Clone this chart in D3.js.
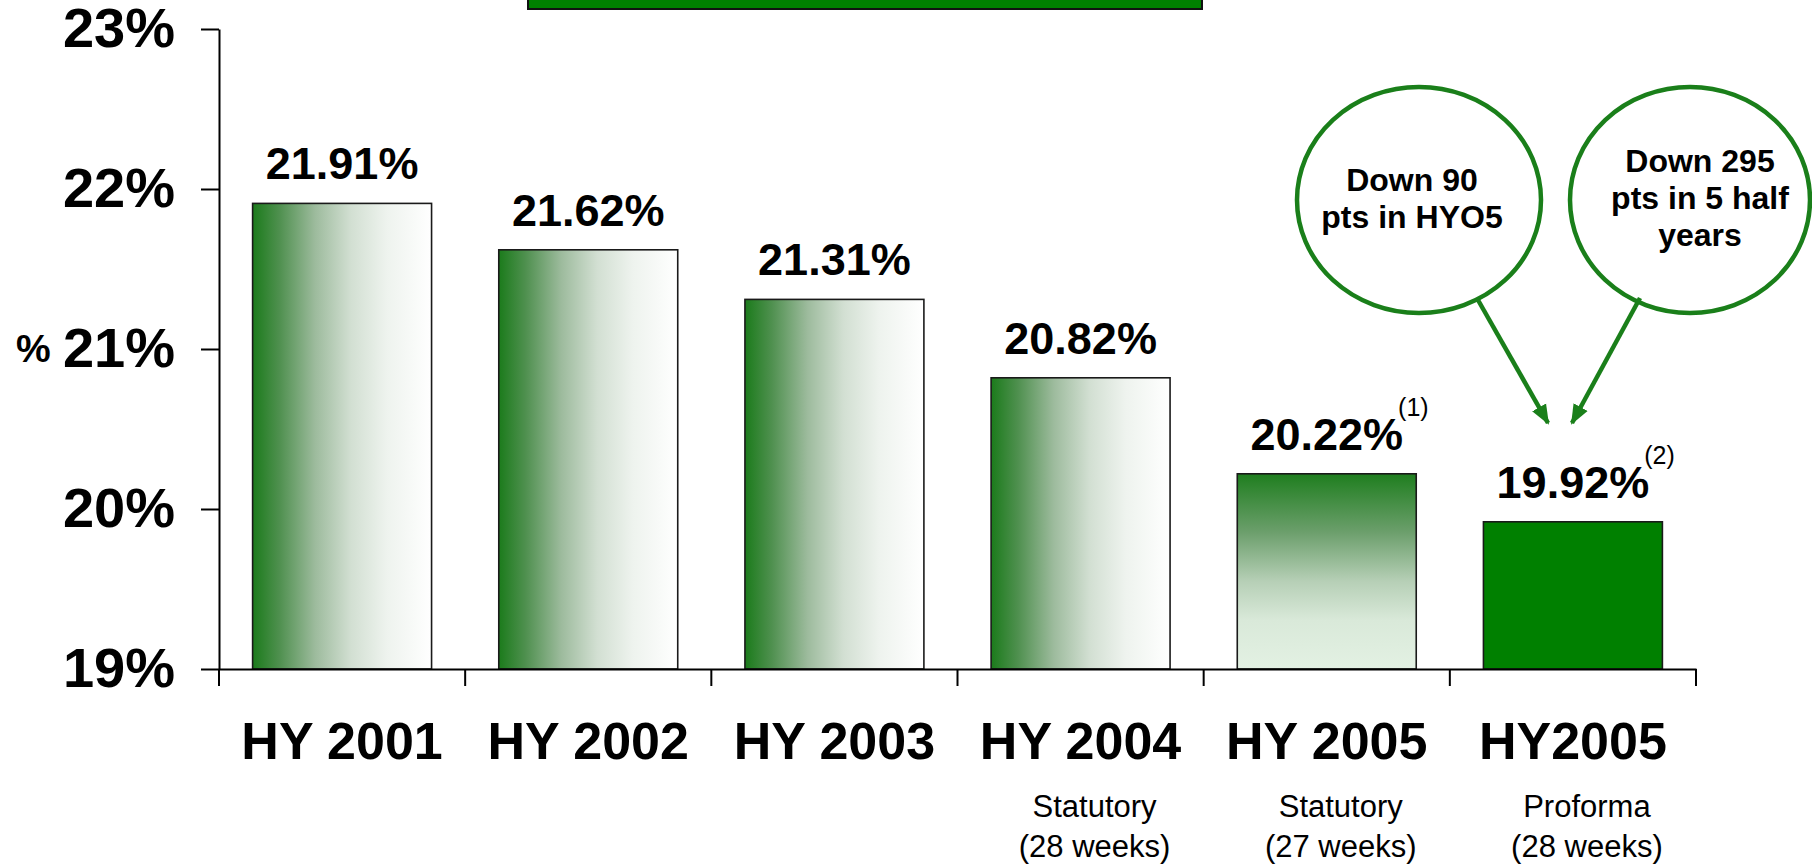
<!DOCTYPE html>
<html>
<head>
<meta charset="utf-8">
<script src="https://cdn.jsdelivr.net/npm/d3@7"></script>
<style>
  body { margin: 0; background: #fff; }
  text { font-family: "Liberation Sans", Arial, sans-serif; fill: #000; }
</style>
</head>
<body>
<svg id="chart"></svg>
<script>
// data
const categories = ["HY 2001", "HY 2002", "HY 2003", "HY 2004", "HY 2005", "HY2005"];
const values = [21.91, 21.62, 21.31, 20.82, 20.22, 19.92];
const fillKinds = ["hgrad", "hgrad", "hgrad", "hgrad", "vgrad", "solid"];
const notes = ["", "", "", "", "(1)", "(2)"];
const subLine1 = ["", "", "", "Statutory", "Statutory", "Proforma"];
const subLine2 = ["", "", "", "(28 weeks)", "(27 weeks)", "(28 weeks)"];
const yTicks = [19, 20, 21, 22, 23];
const callouts = [["Down 90", "pts in HYO5"], ["Down 295", "pts in 5 half", "years"]];

const width = 1812;
const height = 865;
const green = "#1a7f1a";

const svg = d3.select("svg#chart").attr("width", width).attr("height", height);
const defs = svg.append("defs");

// gradients like the powerpoint fills
var hg = defs.append("linearGradient").attr("id", "hgrad")
  .attr("x1", 0).attr("y1", 0).attr("x2", 1).attr("y2", 0);
[[0, "#1b7b1b"], [0.15, "#4f904f"], [0.35, "#9dbb9d"], [0.55, "#d2dfd2"], [0.75, "#eef3ee"], [1, "#ffffff"]]
  .forEach(s => hg.append("stop").attr("offset", s[0]).attr("stop-color", s[1]));

var vg = defs.append("linearGradient").attr("id", "vgrad")
  .attr("x1", 0).attr("y1", 0).attr("x2", 0).attr("y2", 1);
[[0, "#1f7e1f"], [0.3, "#6c9f6c"], [0.55, "#b6cfb6"], [0.75, "#d9e9d9"], [1, "#e3f1e3"]]
  .forEach(s => vg.append("stop").attr("offset", s[0]).attr("stop-color", s[1]));

defs.append("marker").attr("id", "arrow")
  .attr("viewBox", "0 0 20 20").attr("refX", 18).attr("refY", 10)
  .attr("markerUnits", "userSpaceOnUse")
  .attr("markerWidth", 20).attr("markerHeight", 20)
  .attr("orient", "auto")
  .append("path").attr("d", "M0,2 L20,10 L0,18 Z").attr("fill", green);

const fillFor = { hgrad: "url(#hgrad)", vgrad: "url(#vgrad)", solid: "#008000" };

// clipped title box at the top
svg.append("rect")
  .attr("x", 528).attr("y", -20).attr("width", 674).attr("height", 29)
  .attr("fill", "#008000").attr("stroke", "#111").attr("stroke-width", 2);

var yScale = d3.scaleLinear().domain([19, 23]).range([669, 29]);
var xScale = d3.scaleBand().domain(categories).range([219, 1696])
  .paddingInner(0.273).paddingOuter(0.1365);
const bw = xScale.bandwidth();
const cx = c => xScale(c) + bw / 2;

// y axis
var yAxis = svg.append("g").attr("transform", "translate(219,0)")
  .call(d3.axisLeft(yScale).tickValues(yTicks).tickFormat(d => d + "%")
    .tickSize(18).tickSizeOuter(0).tickPadding(26));
yAxis.select(".domain").attr("stroke", "#000").attr("stroke-width", 2);
yAxis.selectAll(".tick line").attr("stroke", "#000").attr("stroke-width", 2);
yAxis.selectAll(".tick text")
  .style("font-family", '"Liberation Sans", Arial, sans-serif')
  .style("font-size", "56px").style("font-weight", "bold");

svg.append("text").attr("x", 16).attr("y", 362)
  .style("font-size", "39px").style("font-weight", "bold").text("%");

// bars
svg.append("g").selectAll("rect").data(categories).enter().append("rect")
  .attr("x", d => xScale(d))
  .attr("y", (d, i) => yScale(values[i]))
  .attr("width", bw)
  .attr("height", (d, i) => yScale(19) - yScale(values[i]))
  .attr("fill", (d, i) => fillFor[fillKinds[i]])
  .attr("stroke", "#1a1a1a").attr("stroke-width", 1.6);

// x axis, labels under band centers, ticks on band edges
var xAxis = svg.append("g").attr("transform", "translate(0,669)")
  .call(d3.axisBottom(xScale).tickSize(0).tickSizeOuter(0).tickPadding(53));
xAxis.select(".domain").attr("stroke", "#000").attr("stroke-width", 2);
xAxis.selectAll(".tick text")
  .style("font-family", '"Liberation Sans", Arial, sans-serif')
  .style("font-size", "52px").style("font-weight", "bold");

var edges = categories.map(c => xScale(c) - xScale.step() * xScale.paddingInner() / 2);
edges.push(xScale.range()[1]);
svg.append("g").selectAll("line").data(edges).enter().append("line")
  .attr("x1", d => d).attr("x2", d => d)
  .attr("y1", 669).attr("y2", 686)
  .attr("stroke", "#000").attr("stroke-width", 2);

// sub labels
svg.append("g").selectAll("text").data(categories).enter().append("text")
  .attr("x", d => cx(d) + 14).attr("y", 817)
  .attr("text-anchor", "middle").style("font-size", "31px")
  .text((d, i) => subLine1[i]);
svg.append("g").selectAll("text").data(categories).enter().append("text")
  .attr("x", d => cx(d) + 14).attr("y", 857)
  .attr("text-anchor", "middle").style("font-size", "31px")
  .text((d, i) => subLine2[i]);

// value labels + footnote marks
var valueLabels = svg.append("g").selectAll("text").data(categories).enter().append("text")
  .attr("x", d => cx(d))
  .attr("y", (d, i) => yScale(values[i]) - 24)
  .attr("text-anchor", "middle")
  .style("font-size", "45px").style("font-weight", "bold")
  .text((d, i) => values[i].toFixed(2) + "%");

valueLabels.each(function (d, i) {
  if (!notes[i]) return;
  var w = this.getComputedTextLength();
  svg.append("text")
    .attr("x", cx(d) + w / 2 - 5)
    .attr("y", yScale(values[i]) - 24 - 34)
    .style("font-size", "25px")
    .text(notes[i]);
});

// callout bubbles with arrows
const bubbles = [
  { cx: 1419, cy: 200, rx: 122, ry: 113, tx: 1412, from: [1478, 300], to: [1548, 423] },
  { cx: 1690, cy: 200, rx: 120, ry: 113, tx: 1700, from: [1640, 298], to: [1572, 423] }
];
bubbles.forEach((b, k) => {
  svg.append("ellipse")
    .attr("cx", b.cx).attr("cy", b.cy).attr("rx", b.rx).attr("ry", b.ry)
    .attr("fill", "#fff").attr("stroke", green).attr("stroke-width", 4.5);
  var lines = callouts[k];
  var y0 = b.cy - (lines.length - 1) * 37 / 2 + 9;
  lines.forEach((t, j) => {
    svg.append("text").attr("x", b.tx).attr("y", y0 + j * 37)
      .attr("text-anchor", "middle")
      .style("font-size", "32px").style("font-weight", "bold")
      .text(t);
  });
  svg.append("line")
    .attr("x1", b.from[0]).attr("y1", b.from[1])
    .attr("x2", b.to[0]).attr("y2", b.to[1])
    .attr("stroke", green).attr("stroke-width", 4.5)
    .attr("marker-end", "url(#arrow)");
});
</script>
</body>
</html>
